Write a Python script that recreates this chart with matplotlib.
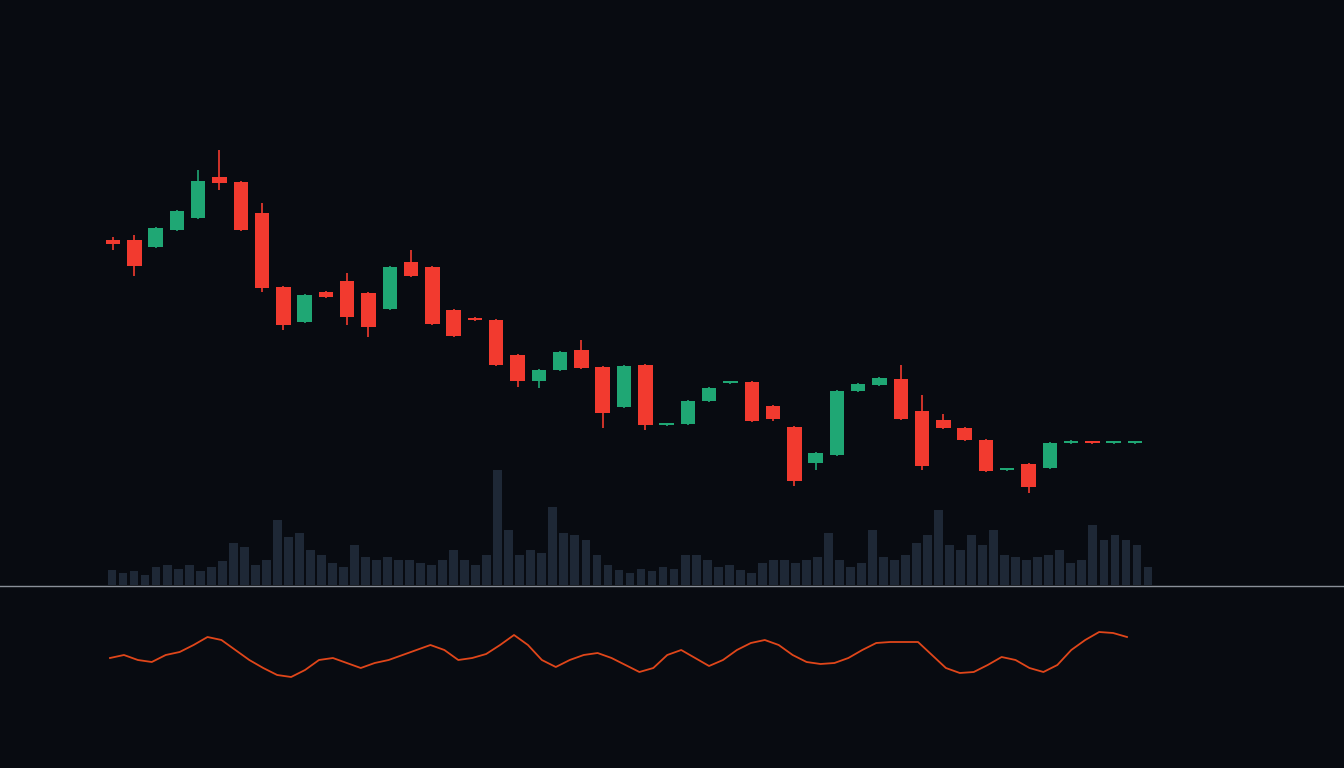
import numpy as np
import matplotlib.pyplot as plt

# candles: open, close, high, low (price units)
opens = [528, 528, 521, 538, 550, 591, 586, 555, 481, 446, 476, 487, 475, 459, 506, 501, 458, 450, 448, 413, 387, 398, 418, 401, 361, 403, 343, 344, 367, 385, 386, 362, 341, 305, 313, 377, 383, 389, 357, 348, 340, 328, 298, 304, 300, 325, 326, 325, 325]
closes = [524, 502, 540, 557, 587, 585, 538, 480, 443, 473, 471, 451, 441, 501, 492, 444, 432, 448, 403, 387, 398, 416, 400, 355, 402, 343, 343, 367, 380, 385, 347, 349, 287, 315, 377, 384, 390, 349, 302, 340, 328, 297, 298, 281, 325, 327, 325, 325, 325]
highs = [531, 533, 541, 558, 598, 618, 587, 565, 482, 474, 477, 495, 476, 502, 518, 502, 459, 451, 449, 414, 399, 417, 428, 402, 403, 404, 344, 368, 381, 386, 387, 363, 342, 316, 378, 385, 391, 403, 373, 354, 341, 329, 299, 305, 326, 328, 326, 326, 326]
lows = [518, 492, 520, 537, 549, 578, 537, 476, 438, 445, 470, 443, 431, 458, 491, 443, 431, 447, 402, 381, 380, 397, 399, 340, 360, 338, 342, 343, 366, 384, 346, 347, 282, 298, 312, 376, 382, 348, 298, 339, 327, 296, 297, 275, 299, 324, 324, 324, 324]

volume = [15, 12, 14, 10, 18, 20, 16, 20, 14, 18, 24, 42, 38, 20, 25, 65, 48, 52, 35, 30,
          22, 18, 40, 28, 25, 28, 25, 25, 22, 20, 25, 35, 25, 20, 30, 115, 55, 30, 35, 32,
          78, 52, 50, 45, 30, 20, 15, 12, 16, 14, 18, 16, 30, 30, 25, 18, 20, 15, 12, 22,
          25, 25, 22, 25, 28, 52, 25, 18, 22, 55, 28, 25, 30, 42, 50, 75, 40, 35, 50, 40,
          55, 30, 28, 25, 28, 30, 35, 22, 25, 60, 45, 50, 45, 40, 18]

indicator = [110, 113, 108, 106, 113, 116, 123, 131, 128, 118, 108, 100, 93, 91, 98, 108, 110, 105,
             100, 105, 108, 113, 118, 123, 118, 108, 110, 114, 123, 133, 123, 108, 101, 108, 113,
             115, 110, 103, 96, 100, 113, 118, 110, 102, 108, 118, 125, 128, 123, 113, 106, 104,
             105, 110, 118, 125, 126, 126, 126, 113, 100, 95, 96, 103, 111, 108, 100, 96, 103,
             118, 128, 136, 135, 131]

bg = '#080b11'
red = '#f23a2f'
green = '#1fa774'

fig = plt.figure(figsize=(13.44, 7.68), dpi=100, facecolor=bg)
axv = fig.add_axes([0, 183 / 768, 1, 585 / 768], facecolor=bg)
ax = fig.add_axes([0, 183 / 768, 1, 585 / 768])
ax.patch.set_visible(False)
ax2 = fig.add_axes([0, 0, 1, 183 / 768], facecolor=bg)

n = len(opens)
s = (1135 - 113) / (n - 1)
x = np.arange(n)
for i in x:
    o, c = opens[i], closes[i]
    col = green if c >= o else red
    ax.vlines(i, lows[i], highs[i], color=col, lw=1.2)
    h = max(abs(c - o), 2)
    ax.bar(i, h, bottom=min(o, c), width=0.68, color=col)
ax.set_xlim(-113 / s, (1344 - 113) / s)
ax.set_ylim(183, 768)

nv = len(volume)
sv = (1148 - 112) / (nv - 1)
axv.bar(np.arange(nv), volume, width=0.8, color='#1e2836')
axv.set_xlim(-112 / sv, (1344 - 112) / sv)
axv.set_ylim(0, 585)

ni = len(indicator)
si = (1127 - 110) / (ni - 1)
ax2.plot(np.arange(ni), indicator, color='#e0461a', lw=1.3)
ax2.set_xlim(-110 / si, (1344 - 110) / si)
ax2.set_ylim(0, 183)
ax2.axhline(182, color='#8a9099', lw=1)

for a in (ax, axv, ax2):
    a.axis('off')

fig.savefig('out.png', dpi=100, facecolor=bg)
